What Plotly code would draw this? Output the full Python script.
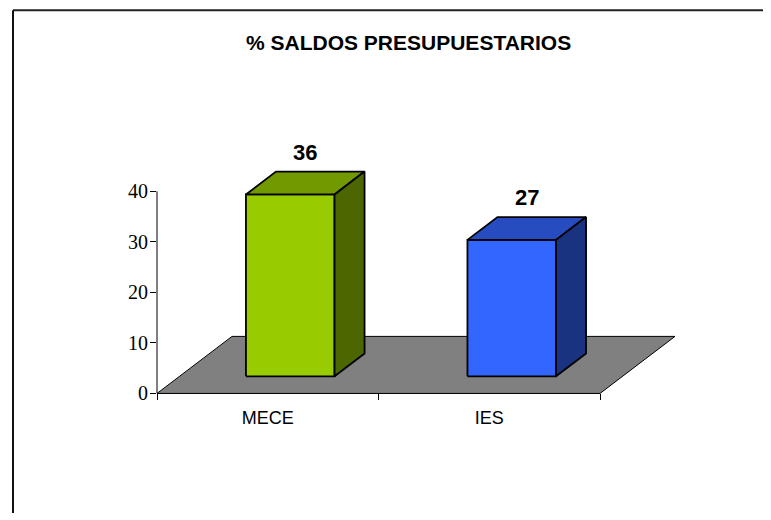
import plotly.graph_objects as go

# ---------------- data ----------------
categories = ["MECE", "IES"]
values = [36, 27]
value_labels = ["36", "27"]
y_ticks = [0, 10, 20, 30, 40]
title_text = "% SALDOS PRESUPUESTARIOS"

front_colors = ["#99CC00", "#3366FF"]
top_colors = ["#739900", "#264CBF"]
side_colors = ["#4C6600", "#1A3380"]
floor_color = "#808080"

# ---------------- geometry ----------------
OFF = 8                 # page body margin around the plot div
Y_SCALE = 0.978         # vertical scale observed in the captured picture
W = 771 - 2 * OFF
H = int(round(520 / Y_SCALE)) - 2 * OFF


def fy_px(ref_y):
    """reference-picture y (px) -> figure y (px)"""
    return ref_y / Y_SCALE - OFF


PX_LEFT, PX_RIGHT = 157 - OFF, 600 - OFF
PX_ZERO, PX_TOP = fy_px(393), fy_px(100)
PX_PER_UNIT = 5.05 / Y_SCALE
px_per_cat = (PX_RIGHT - PX_LEFT) / len(categories)

DEPTH_DX = 75 / px_per_cat      # category units
DEPTH_DY = 57 / 5.05            # value units
D0, D1 = 0.3, 0.7
HALF_W = 0.2


def proj(x, v, d):
    return x + d * DEPTH_DX, v + d * DEPTH_DY


def poly(pts):
    xs, ys = [], []
    for (x, v, d) in pts + [pts[0]]:
        px, py = proj(x, v, d)
        xs.append(px)
        ys.append(py)
    return xs, ys


fig = go.Figure()

fig.add_trace(go.Bar(x=categories, y=values, marker_color="rgba(0,0,0,0)",
                     marker_line_width=0, hoverinfo="skip", showlegend=False,
                     xaxis="x", yaxis="y"))

n = len(categories)
flx, fly = poly([(-0.5, 0, 0), (n - 0.5, 0, 0), (n - 0.5, 0, 1), (-0.5, 0, 1)])
fig.add_trace(go.Scatter(x=flx, y=fly, mode="lines", fill="toself",
                         fillcolor=floor_color, line=dict(color="black", width=1),
                         hoverinfo="skip", showlegend=False, xaxis="x2", yaxis="y2"))

for i, v in enumerate(values):
    l, r = i - HALF_W, i + HALF_W
    faces = [
        ([(l, 0, D0), (r, 0, D0), (r, v, D0), (l, v, D0)], front_colors[i]),
        ([(l, v, D0), (r, v, D0), (r, v, D1), (l, v, D1)], top_colors[i]),
        ([(r, 0, D0), (r, 0, D1), (r, v, D1), (r, v, D0)], side_colors[i]),
    ]
    for pts, col in faces:
        xs, ys = poly(pts)
        fig.add_trace(go.Scatter(x=xs, y=ys, mode="lines", fill="toself",
                                 fillcolor=col, line=dict(color="black", width=1.8),
                                 hoverinfo="skip", showlegend=False,
                                 xaxis="x2", yaxis="y2"))

annotations = [
    dict(text=title_text, xref="paper", yref="paper", x=(408 - OFF) / W,
         y=1 - fy_px(42) / H, xanchor="center", yanchor="middle", showarrow=False,
         font=dict(family="Liberation Sans, Arial", size=21, color="black",
                   weight="bold")),
]
for i, v in enumerate(values):
    ax, _ = proj(i, v, 0.5)
    _, ay = proj(i, v, D1)
    annotations.append(dict(text=value_labels[i], xref="x2", yref="y2", x=ax, y=ay,
                            xanchor="center", yanchor="bottom", yshift=5,
                            showarrow=False,
                            font=dict(family="Liberation Sans, Arial", size=22,
                                      color="black", weight="bold")))

y_top = (PX_ZERO - PX_TOP) / PX_PER_UNIT

fig.update_layout(
    width=W, height=H,
    margin=dict(l=0, r=0, t=0, b=0),
    paper_bgcolor="white", plot_bgcolor="rgba(0,0,0,0)",
    showlegend=False,
    xaxis=dict(domain=[PX_LEFT / W, PX_RIGHT / W], anchor="y", type="category",
               categoryorder="array", categoryarray=categories,
               range=[-0.5, n - 0.5], showline=True, linecolor="black", linewidth=1,
               ticks="outside", tickson="boundaries", ticklen=6, tickcolor="black",
               showgrid=False, zeroline=False, ticklabelstandoff=8,
               tickfont=dict(family="Liberation Sans, Arial", size=18, color="black"),
               fixedrange=True),
    yaxis=dict(domain=[(H - PX_ZERO) / H, (H - PX_TOP) / H], anchor="x",
               range=[0, y_top], tickvals=y_ticks, ticks="outside", ticklen=6,
               tickcolor="black", showline=False, showgrid=False, zeroline=False,
               ticklabelstandoff=-2,
               tickfont=dict(family="Liberation Serif, Times New Roman", size=20,
                             color="black"),
               fixedrange=True),
    xaxis2=dict(domain=[0, 1], anchor="y2", visible=False,
                range=[-0.5 - PX_LEFT / px_per_cat, -0.5 + (W - PX_LEFT) / px_per_cat],
                fixedrange=True),
    yaxis2=dict(domain=[0, 1], anchor="x2", visible=False,
                range=[-(H - PX_ZERO) / PX_PER_UNIT, PX_ZERO / PX_PER_UNIT],
                fixedrange=True),
    shapes=[
        dict(type="line", xref="x domain", yref="y", x0=0, x1=0,
             y0=min(y_ticks), y1=max(y_ticks), line=dict(color="black", width=1)),
        dict(type="line", xref="paper", yref="paper", x0=(13 - OFF) / W, x1=1,
             y0=1 - fy_px(10) / H, y1=1 - fy_px(10) / H,
             line=dict(color="#222222", width=2)),
        dict(type="line", xref="paper", yref="paper", x0=(13 - OFF) / W,
             x1=(13 - OFF) / W, y0=0, y1=1 - fy_px(10) / H,
             line=dict(color="#111111", width=2)),
    ],
    annotations=annotations,
)

fig.write_html("out.html")
